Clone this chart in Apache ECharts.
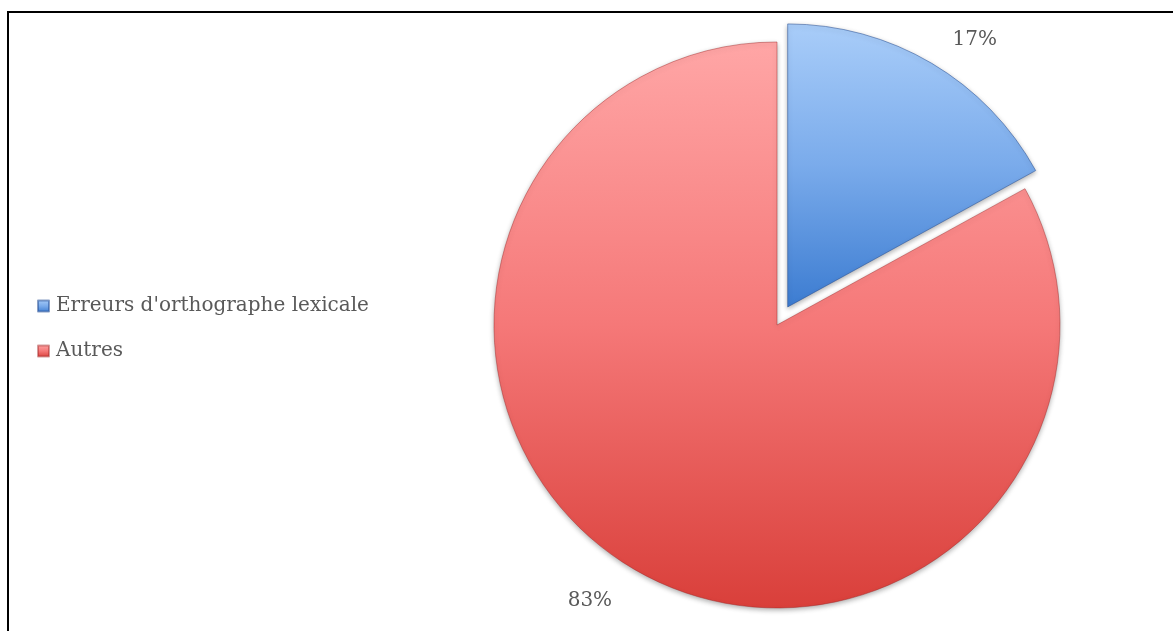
<!DOCTYPE html>
<html>
<head>
<meta charset="utf-8">
<script src="https://cdn.jsdelivr.net/npm/echarts@6/dist/echarts.min.js"></script>
<style>
  html, body { margin: 0; padding: 0; background: #ffffff; }
  #chart { width: 1173px; height: 631px; }
</style>
</head>
<body>
<div id="chart"></div>
<script>
// Share of lexical spelling errors among all errors
const categories = ["Erreurs d'orthographe lexicale", 'Autres'];
const values = [17, 83];
const labels = ['17%', '83%'];

const fontFamily = '"DejaVu Serif", "Liberation Serif", serif';
const textColor = '#595959';

const fills = [
  new echarts.graphic.LinearGradient(0, 0, 0, 1, [
    { offset: 0, color: '#a9cdf9' },
    { offset: 0.5, color: '#7aabeb' },
    { offset: 1, color: '#3c7cd1' }
  ]),
  new echarts.graphic.LinearGradient(0, 0, 0, 1, [
    { offset: 0, color: '#ffa6a6' },
    { offset: 0.5, color: '#f57878' },
    { offset: 1, color: '#d93f3a' }
  ])
];
const borders = ['rgba(40,80,150,0.55)', 'rgba(160,40,40,0.45)'];
// outside label placement: [length, length2] per slice
const lineLengths = [[27, 2], [37, -3]];

const chart = echarts.init(document.getElementById('chart'), null, { renderer: 'canvas' });

chart.setOption({
  backgroundColor: '#ffffff',
  animation: false,
  legend: {
    orient: 'vertical',
    left: 37,
    top: 295,
    padding: 0,
    itemWidth: 11,
    itemHeight: 11,
    itemGap: 23,
    icon: 'rect',
    selectedMode: false,
    textStyle: {
      fontFamily: fontFamily,
      fontSize: 20,
      lineHeight: 22,
      color: textColor,
      padding: [0, 0, 0, 2]
    },
    data: categories
  },
  graphic: [{
    type: 'rect',
    shape: { x: 8, y: 12, width: 1200, height: 700 },
    style: { fill: 'none', stroke: '#000000', lineWidth: 2 },
    silent: true,
    z: 100
  }],
  series: [{
    type: 'pie',
    center: [777, 325],
    radius: 283,
    startAngle: 90,
    clockwise: true,
    selectedMode: 'single',
    selectedOffset: 21,
    avoidLabelOverlap: false,
    emphasis: { disabled: true },
    itemStyle: {
      borderWidth: 1,
      shadowBlur: 5,
      shadowOffsetY: 2,
      shadowColor: 'rgba(0,0,0,0.3)'
    },
    label: {
      position: 'outside',
      fontFamily: fontFamily,
      fontSize: 20,
      color: textColor,
      formatter: function (p) { return labels[p.dataIndex]; }
    },
    labelLine: { show: false },
    data: categories.map(function (name, i) {
      return {
        name: name,
        value: values[i],
        selected: i === 0,
        itemStyle: { color: fills[i], borderColor: borders[i] },
        labelLine: { show: false, length: lineLengths[i][0], length2: lineLengths[i][1] }
      };
    })
  }]
});
</script>
</body>
</html>
